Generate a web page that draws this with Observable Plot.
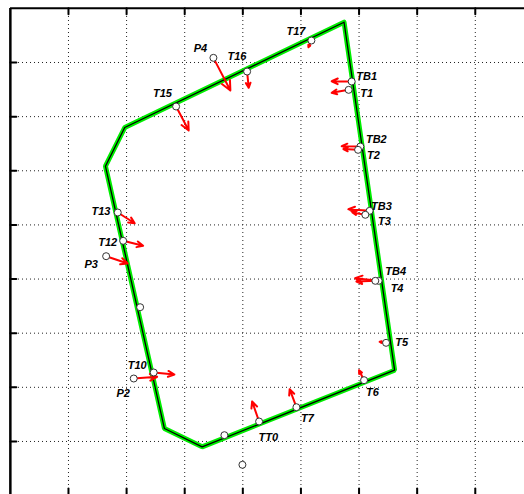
<!DOCTYPE html>
<html>
<head>
<meta charset="utf-8">
<script src="https://cdn.jsdelivr.net/npm/d3@7"></script>
<script src="https://cdn.jsdelivr.net/npm/@observablehq/plot@0.6"></script>
<style>
  html, body { margin: 0; padding: 0; background: #fff; }
  #chart { width: 524px; height: 494px; overflow: hidden; }
  svg { display: block; }
</style>
</head>
<body>
<div id="chart"></div>
<script>
// ---- Data (grid units) ----
const gridTicks = [1, 2, 3, 4, 5, 6, 7, 8];

// Outline (closed polygon)
const outlineX = [5.742, 6.612, 3.300, 2.651, 1.636, 1.968, 5.742];
const outlineY = [8.744, 2.316, 0.901, 1.239, 6.085, 6.799, 8.744];

// Measured points
const pointNames = ["P4","T16","T15","T13","T12","T17","TB1","T1","TB2","T2","TB3","T3","P3","","T10","P2","","TT0","","T7","TB4","T4","T5","T6"];
const pointX = [3.494,4.074,2.852,1.848,1.941,5.180,5.873,5.821,6.022,5.983,6.182,6.108,1.648,2.233,2.467,2.123,3.683,4.280,3.993,4.922,6.337,6.280,6.465,6.086];
const pointY = [8.086,7.833,7.187,5.229,4.706,8.406,7.649,7.495,6.448,6.387,5.260,5.187,4.422,3.480,2.274,2.163,1.116,1.369,0.569,1.633,3.967,3.967,2.822,2.132];

// Label anchor points (centres of the labels)
const labelX = [3.270,3.900,2.617,1.560,1.676,4.914,6.131,6.131,6.297,6.246,6.384,6.435,1.390,null,2.182,1.941,null,4.440,null,5.111,6.630,6.654,6.733,6.229];
const labelY = [8.258,8.116,7.427,5.253,4.680,8.572,7.735,7.427,6.583,6.282,5.340,5.063,4.263,null,2.397,1.886,null,1.073,null,1.419,4.134,3.831,2.828,1.910];

// Displacement arrows: from point to tip
const arrowFrom = ["P4","T16","T15","T13","T12","T17","TB1","T1","TB2","T2","TB3","T3","P3","T10","P2","T7","TT0","T6","TB4","T4","T5"];
const arrowTipX = [3.786,4.101,3.069,2.140,2.285,5.128,5.529,5.529,5.701,5.730,5.816,5.885,2.020,2.823,2.526,4.806,4.160,6.000,5.931,5.954,6.354];
const arrowTipY = [7.482,7.532,6.744,5.031,4.614,8.282,7.654,7.440,6.454,6.402,5.290,5.229,4.287,2.237,2.194,1.965,1.738,2.316,4.016,3.955,2.841];

// ---- Build tables ----
const outline = outlineX.map((x, i) => ({x, y: outlineY[i]}));
const points = pointNames.map((name, i) => ({name, x: pointX[i], y: pointY[i], lx: labelX[i], ly: labelY[i]}));
const byName = new Map(points.filter(p => p.name).map(p => [p.name, p]));
const arrows = arrowFrom.map((n, i) => ({x1: byName.get(n).x, y1: byName.get(n).y, x2: arrowTipX[i], y2: arrowTipY[i]}));
const labels = points.filter(p => p.name && p.lx != null);

const tickShape = {draw(context, l) { context.moveTo(0, 0); context.lineTo(0, -l); }};

const chart = Plot.plot({
  width: 524,
  height: 494,
  marginLeft: 10,
  marginTop: 8,
  marginRight: 0,
  marginBottom: 0,
  x: {domain: [0, 9], range: [9.86, 532.9], axis: null},
  y: {domain: [0, 9], range: [495.1, 7.86], axis: null},
  style: {background: "#fff"},
  marks: [
    // dotted grid
    Plot.ruleX(gridTicks, {x: d => d, stroke: "#222", strokeWidth: 1, strokeDasharray: "1,3"}),
    Plot.ruleY(gridTicks, {y: d => d, stroke: "#222", strokeWidth: 1, strokeDasharray: "1,3"}),
    // frame: left and top
    Plot.ruleX([0], {stroke: "#000", strokeWidth: 2.5}),
    Plot.ruleY([9], {stroke: "#000", strokeWidth: 2}),
    // inward ticks
    Plot.vector(gridTicks, {x: 0, y: d => d, length: 6, rotate: 90, anchor: "start", shape: tickShape, stroke: "#000", strokeWidth: 2}),
    Plot.vector(gridTicks, {x: d => d, y: 9, length: 6, rotate: 180, anchor: "start", shape: tickShape, stroke: "#000", strokeWidth: 2}),
    Plot.vector(gridTicks, {x: d => d, y: 0, length: 7, rotate: 0, anchor: "start", shape: tickShape, stroke: "#000", strokeWidth: 2}),
    // outline: green with black core
    Plot.line(outline, {x: "x", y: "y", stroke: "#00ee00", strokeWidth: 5, strokeLinejoin: "miter"}),
    Plot.line(outline, {x: "x", y: "y", stroke: "#000", strokeWidth: 1.3, strokeLinejoin: "miter"}),
    // arrows
    Plot.arrow(arrows, {x1: "x1", y1: "y1", x2: "x2", y2: "y2", stroke: "#ff0000", strokeWidth: 2, headLength: 8, headAngle: 50}),
    // points
    Plot.dot(points, {x: "x", y: "y", r: 3.5, fill: "#fff", stroke: "#333", strokeWidth: 1}),
    // labels
    Plot.text(labels, {x: "lx", y: "ly", text: "name", fontSize: 11, fontWeight: "bold", fontStyle: "italic", fontFamily: "Liberation Sans, Arial, sans-serif", fill: "#000"})
  ]
});
document.getElementById("chart").appendChild(chart);
</script>
</body>
</html>
